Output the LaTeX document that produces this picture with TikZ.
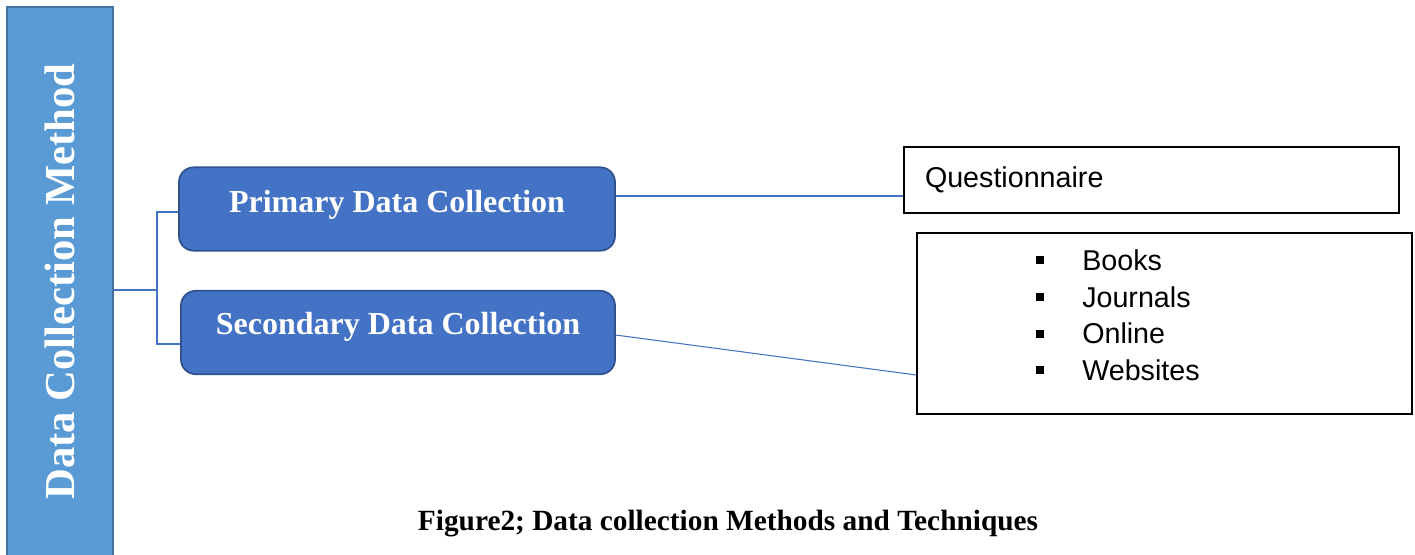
\documentclass[tikz,border=0pt]{standalone}
\usepackage{fontspec}
\setmainfont{Liberation Serif}
\newfontfamily\arialfont{Liberation Sans}
\definecolor{barfill}{HTML}{5B9BD5}
\definecolor{bardraw}{HTML}{41719C}
\definecolor{boxfill}{HTML}{4472C4}
\definecolor{boxdraw}{HTML}{2F528F}
\definecolor{conn}{HTML}{4472C4}
\tikzset{
  barbox/.style={draw=bardraw, line width=1.5pt, fill=barfill, text=white, inner sep=0pt,
    minimum width=79.5pt, minimum height=411.75pt, font=\bfseries\fontsize{32}{38}\selectfont},
  bluebox/.style={draw=boxdraw, line width=1.3pt, fill=boxfill, text=white, rounded corners=11pt,
    inner sep=0pt, minimum height=62.5pt, font=\bfseries\fontsize{24}{28}\selectfont},
  plainbox/.style={draw=black, line width=1.2pt, inner sep=0pt, minimum width=371.25pt},
  itemtext/.style={anchor=base west, inner sep=0pt, font=\arialfont\fontsize{21.5}{26}\selectfont},
  connector/.style={draw=conn, line width=0.8pt}
}
\newcommand{\sqbullet}{\llap{\rule[4.5pt]{6pt}{6pt}\hspace{28.5pt}}}
\begin{document}
\begin{tikzpicture}[x=0.75pt, y=-0.75pt]
\useasboundingbox (0,0) rectangle (1415,554);
\node[barbox] (bar) at (60,281.5) {\rotatebox{90}{Data Collection Method}};
\node[bluebox, minimum width=327pt, text height=18pt, text depth=13.5pt] (prim) at (397,209) {Primary Data Collection};
\node[bluebox, minimum width=325.5pt, text height=18pt, text depth=15.4pt] (sec) at (398,332.5) {Secondary Data Collection};
\node[plainbox, minimum height=49.5pt, text width=339.75pt, inner xsep=15.75pt, align=left,
  text height=14pt, text depth=3.5pt, font=\arialfont\fontsize{21.5}{26}\selectfont] (quest) at (1151.5,180) {Questionnaire};
\node[plainbox, minimum height=135.75pt] (list) at (1164.5,323.5) {};
\node[itemtext] (books) at (1082,270) {\sqbullet Books};
\node[itemtext] (journals) at (1082,307) {\sqbullet Journals};
\node[itemtext] (online) at (1082,343.5) {\sqbullet Online};
\node[itemtext] (websites) at (1082,380) {\sqbullet Websites};
\node[anchor=base, inner sep=0pt, font=\bfseries\fontsize{22}{26}\selectfont] (caption) at (728,530) {Figure2; Data collection Methods and Techniques};
\coordinate (j) at (157,290);
\draw[connector] (bar.east |- j) -- (j);
\draw[connector] ([yshift=-2.25pt]prim.west) -| (j) |- ([yshift=-8.6pt]sec.west);
\draw[connector] ([yshift=9.75pt]prim.east) -- ([yshift=9.75pt]prim.east -| quest.west);
\draw[connector] ([yshift=-1.9pt]sec.east) -- ([yshift=-38.6pt]list.west);
\end{tikzpicture}
\end{document}
